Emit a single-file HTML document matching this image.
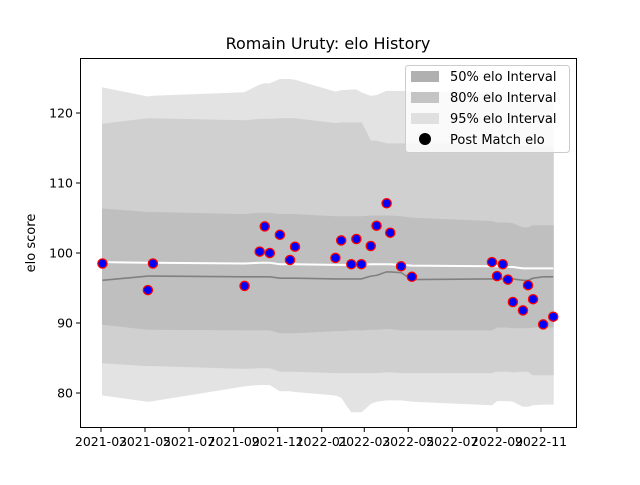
<!DOCTYPE html>
<html><head><meta charset="utf-8"><style>
body{margin:0;background:#fff}
svg{font-family:"DejaVu Sans","Liberation Sans",sans-serif}
</style></head><body>
<svg id="chart" width="640" height="480" viewBox="0 0 640 480" xmlns="http://www.w3.org/2000/svg">
<rect width="640" height="480" fill="#fff"/>
<text x="328" y="49" font-size="16" text-anchor="middle">Romain Uruty: elo History</text>
<text transform="translate(35,243) rotate(-90)" font-size="13" text-anchor="middle">elo score</text>
<g id="bands"></g><g id="lines"></g><g id="pts"></g><g id="axes"></g>
<g>
<rect x="405.5" y="65.5" width="164" height="87" rx="3" fill="#fff" fill-opacity="0.8" stroke="#ccc"/>
<rect x="411" y="71" width="28" height="11" fill="#b0b0b0"/>
<text x="450" y="81" font-size="13">50% elo Interval</text>
<rect x="411" y="92" width="28" height="11" fill="#c4c4c4"/>
<text x="450" y="102" font-size="13">80% elo Interval</text>
<rect x="411" y="113" width="28" height="11" fill="#e0e0e0"/>
<text x="450" y="123" font-size="13">95% elo Interval</text>
<circle cx="425" cy="139" r="6" fill="#000"/>
<text x="450" y="144" font-size="13">Post Match elo</text>
</g>
</svg>
<script>
const dates=["2021-03-03","2021-05-05","2021-05-12","2021-09-16","2021-10-07","2021-10-14","2021-10-21","2021-11-04","2021-11-18","2021-11-25","2022-01-20","2022-01-28","2022-02-11","2022-02-18","2022-02-25","2022-03-10","2022-03-18","2022-04-01","2022-04-06","2022-04-21","2022-05-06","2022-08-25","2022-09-01","2022-09-09","2022-09-16","2022-09-23","2022-10-07","2022-10-14","2022-10-21","2022-11-04","2022-11-18"];
const postElo=[98.5,94.7,98.5,95.3,100.2,103.8,100.0,102.6,99.0,100.9,99.3,101.8,98.4,102.0,98.4,101.0,103.9,107.1,102.9,98.1,96.6,98.7,96.7,98.4,96.2,93.0,91.8,95.4,93.4,89.8,90.9];
const meanElo=[96.1,96.7,96.7,96.6,96.6,96.6,96.6,96.4,96.4,96.4,96.3,96.3,96.3,96.3,96.3,96.7,96.8,97.3,97.3,97.2,96.2,96.3,96.3,96.3,96.3,96.3,96.1,96.1,96.4,96.6,96.6];
const estElo=[98.7,98.6,98.6,98.5,98.6,98.6,98.6,98.4,98.4,98.4,98.3,98.3,98.3,98.3,98.3,98.4,98.4,98.4,98.4,98.3,98.2,98.1,98.1,98.0,98.0,98.0,97.8,97.8,97.8,97.8,97.8];
const hi50=[106.3,105.8,105.8,105.5,105.7,105.7,105.7,105.5,105.5,105.5,105.2,105.2,105.2,105.2,105.2,105.3,105.3,105.3,105.3,105.2,105.0,104.5,104.3,104.3,104.3,104.2,103.6,103.6,103.9,103.9,103.9];
const lo50=[89.8,89.1,89.1,89.0,89.0,89.0,89.0,88.6,88.6,88.6,88.9,88.9,89.0,89.0,89.0,89.1,89.1,89.2,89.2,89.0,89.0,89.0,89.4,89.4,89.4,89.3,89.3,89.3,89.4,89.4,89.4];
const hi80=[118.4,119.2,119.2,118.9,119.1,119.1,119.1,119.2,119.2,119.2,118.5,118.6,118.6,118.6,118.6,116.0,116.0,115.6,115.6,115.6,115.6,115.5,115.5,115.5,115.5,115.3,115.2,115.2,115.2,115.2,115.2];
const lo80=[84.3,83.9,83.9,83.5,83.6,83.6,83.6,83.1,83.1,83.1,82.9,82.9,82.9,82.9,82.9,82.9,82.9,83.0,83.0,82.9,82.9,82.9,83.1,83.1,83.1,83.0,83.1,83.1,82.6,82.6,82.6];
const hi95=[123.6,122.3,122.4,122.9,124.0,124.2,124.2,124.8,124.8,124.7,123.0,123.2,123.3,123.3,122.9,122.4,122.5,123.1,123.1,123.1,123.0,122.9,122.6,122.6,122.6,122.4,122.3,122.3,122.3,122.3,122.3];
const lo95=[79.7,78.8,78.9,81.0,81.2,81.2,81.2,80.3,80.3,80.2,79.7,79.4,77.3,77.3,77.3,78.5,78.8,79.0,79.0,79.0,78.8,78.3,78.9,78.9,78.9,78.8,78.1,78.1,78.3,78.4,78.4];
const xTicks=["2021-03","2021-05","2021-07","2021-09","2021-11","2022-01","2022-03","2022-05","2022-07","2022-09","2022-11"];
const yTicks=[80,90,100,110,120];

const NS="http://www.w3.org/2000/svg";
const t0=Date.parse("2021-03-01"),t1=Date.parse("2022-11-01");
const X=d=>101+(Date.parse(d.length==7?d+"-01":d)-t0)/(t1-t0)*440;
const Y=v=>253-(v-100)*7;
function mk(tag,attrs,parent){const e=document.createElementNS(NS,tag);for(const k in attrs)e.setAttribute(k,attrs[k]);document.getElementById(parent).appendChild(e);return e;}
function band(hi,lo,fill,name){
  let p=dates.map((d,i)=>X(d).toFixed(1)+","+Y(hi[i]).toFixed(1));
  for(let i=dates.length-1;i>=0;i--)p.push(X(dates[i]).toFixed(1)+","+Y(lo[i]).toFixed(1));
  const e=mk("polygon",{points:p.join(" "),fill:fill,stroke:fill,"stroke-width":"0.8"},"bands");
  
  
}
band(hi95,lo95,"#e3e3e3","band-95");
band(hi80,lo80,"#d0d0d0","band-80");
band(hi50,lo50,"#bfbfbf","band-50");
function line(arr,col,w,name){
  const e=mk("polyline",{points:dates.map((d,i)=>X(d).toFixed(1)+","+Y(arr[i]).toFixed(1)).join(" "),fill:"none",stroke:col,"stroke-width":w},"lines");
  
  
}
line(meanElo,"#808080",1.6,"mean-elo-line");
line(estElo,"#ffffff",2,"estimate-elo-line");
dates.forEach((d,i)=>{
  const c=mk("circle",{cx:X(d),cy:Y(postElo[i]),r:4.6,fill:"#0000ff",stroke:"#ff0000","stroke-width":1.3},"pts");
  
  
});
const fr=mk("rect",{x:80.5,y:58.5,width:496,height:369,fill:"none",stroke:"#000","stroke-width":1},"axes");


xTicks.forEach(t=>{
  const x=X(t);
  mk("line",{x1:x,x2:x,y1:428,y2:432,stroke:"#000"},"axes");
  const e=mk("text",{x:x,y:446,"font-size":"12.5","text-anchor":"middle"},"axes");e.textContent=t;
  
  
});
yTicks.forEach(v=>{
  const y=Y(v);
  mk("line",{x1:76,x2:80,y1:y,y2:y,stroke:"#000"},"axes");
  const e=mk("text",{x:73,y:y+4.5,"font-size":"12.5","text-anchor":"end"},"axes");e.textContent=v;
  
  
});
</script>
</body></html>
